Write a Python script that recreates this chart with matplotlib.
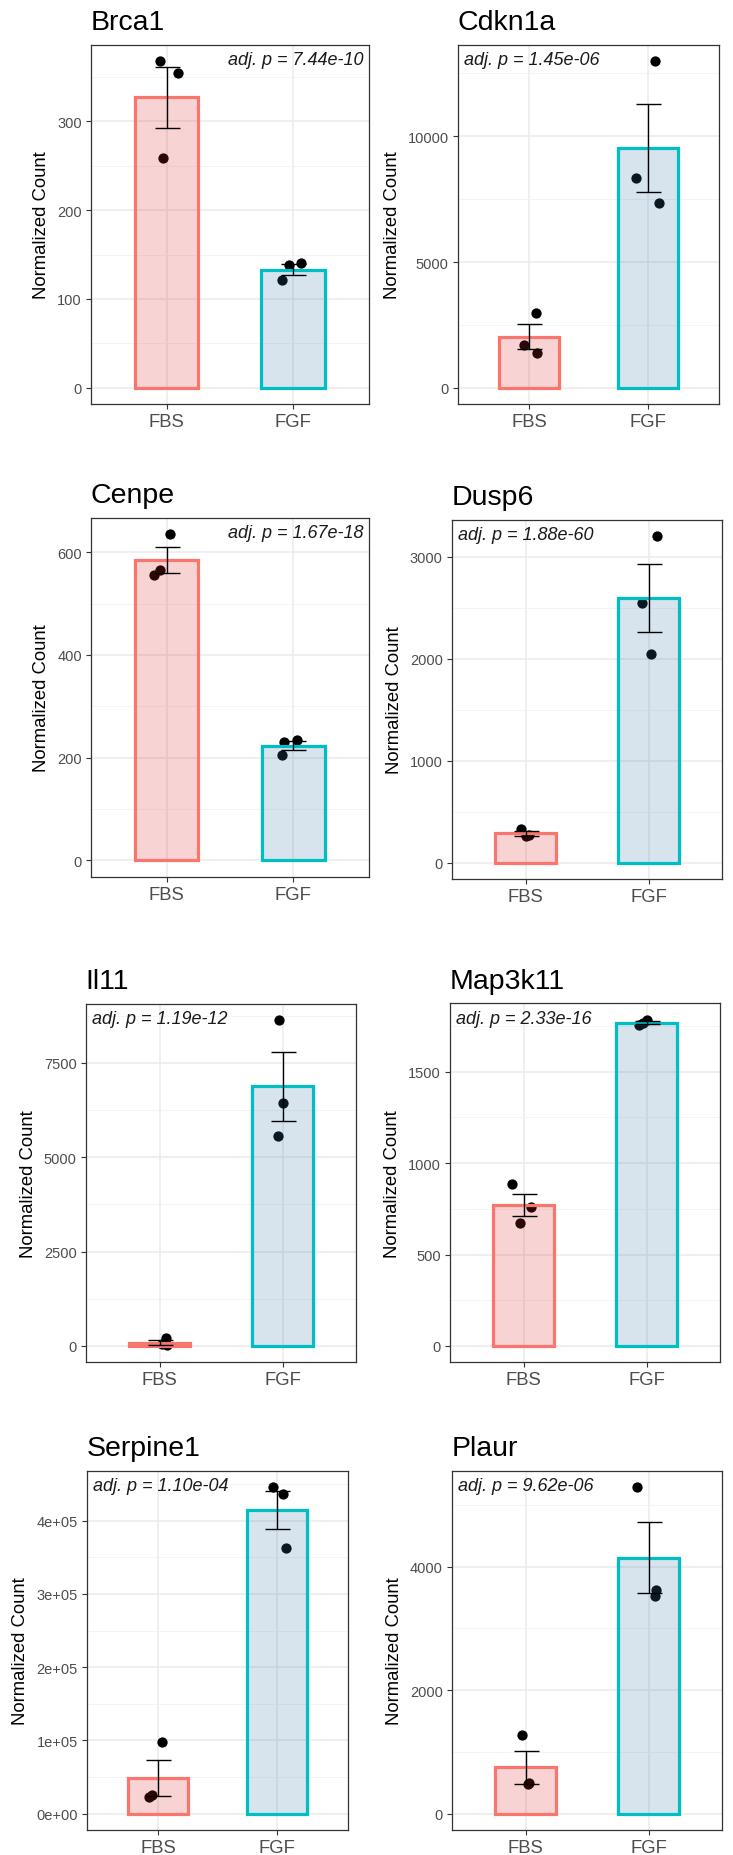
import numpy as np
import matplotlib
matplotlib.use("Agg")
import matplotlib.pyplot as plt
from matplotlib.ticker import FixedLocator

plt.rcParams['font.family'] = ['Liberation Sans', 'DejaVu Sans']

# ---------------- data ----------------
genes = ["Brca1", "Cdkn1a", "Cenpe", "Dusp6", "Il11", "Map3k11", "Serpine1", "Plaur"]
groups = ["FBS", "FGF"]

fbs_counts = [
    [368, 354, 259],
    [2996, 1709, 1406],
    [635, 566, 555],
    [335, 262, 268],
    [200, 30, 45],
    [884, 761, 670],
    [97300, 25000, 22700],
    [1273, 474, 500],
]
fgf_counts = [
    [140, 121, 138],
    [12981, 8320, 7327],
    [234, 231, 205],
    [3203, 2546, 2049],
    [8638, 6435, 5570],
    [1785, 1754, 1767],
    [446000, 436000, 363000],
    [5289, 3623, 3521],
]
# horizontal jitter of the replicate points (category units)
fbs_jitter = [
    [-0.05, 0.088, -0.03],
    [0.06, -0.04, 0.07],
    [0.03, -0.05, -0.10],
    [-0.04, 0.0, 0.03],
    [0.05, 0.06, 0.02],
    [-0.095, 0.06, -0.03],
    [0.03, -0.05, -0.08],
    [-0.03, 0.02, 0.03],
]
fgf_jitter = [
    [0.06, -0.09, -0.03],
    [0.06, -0.10, 0.09],
    [0.03, -0.07, -0.09],
    [0.07, -0.05, 0.02],
    [-0.03, 0.0, -0.04],
    [0.0, -0.065, -0.03],
    [-0.03, 0.05, 0.08],
    [-0.09, 0.06, 0.05],
]
p_labels = ["7.44e-10", "1.45e-06", "1.67e-18", "1.88e-60",
            "1.19e-12", "2.33e-16", "1.10e-04", "9.62e-06"]
y_ticks = [
    [0, 100, 200, 300],
    [0, 5000, 10000],
    [0, 200, 400, 600],
    [0, 1000, 2000, 3000],
    [0, 2500, 5000, 7500],
    [0, 500, 1000, 1500],
    [0, 100000, 200000, 300000, 400000],
    [0, 2000, 4000],
]
y_tick_labels = [
    ["0", "100", "200", "300"],
    ["0", "5000", "10000"],
    ["0", "200", "400", "600"],
    ["0", "1000", "2000", "3000"],
    ["0", "2500", "5000", "7500"],
    ["0", "500", "1000", "1500"],
    ["0e+00", "1e+05", "2e+05", "3e+05", "4e+05"],
    ["0", "2000", "4000"],
]

# ---------------- layout (pixels) ----------------
W, H = 733, 1856
# left, right, top, bottom
boxes = [
    (90.7, 369.0, 45.7, 405.0),
    (457.7, 719.3, 45.7, 405.3),
    (90.7, 369.3, 519.0, 877.7),
    (451.7, 722.3, 520.7, 880.0),
    (85.7, 356.3, 1004.7, 1363.3),
    (449.7, 720.3, 1004.3, 1363.3),
    (86.7, 348.3, 1471.7, 1831.0),
    (451.7, 722.3, 1471.7, 1831.0),
]

edge_cols = ["#F8766D", "#00BFC4"]
fill_cols = [(0.85, 0.14, 0.14, 0.2), (0.22, 0.47, 0.67, 0.2)]
grid_col = "#EBEBEB"
text_gray = "#4D4D4D"
dark = "#333333"

fig = plt.figure(figsize=(W / 100, H / 100), dpi=100)

for i, gene in enumerate(genes):
    l, r, t, b = boxes[i]
    ax = fig.add_axes([l / W, 1 - b / H, (r - l) / W, (b - t) / H])
    ax.set_facecolor("white")

    data = [np.array(fbs_counts[i], float), np.array(fgf_counts[i], float)]
    jit = [fbs_jitter[i], fgf_jitter[i]]
    means = [d.mean() for d in data]
    ses = [d.std(ddof=1) / np.sqrt(len(d)) for d in data]

    # y limits like ggplot (5% expansion)
    lo = min(0, min(d.min() for d in data), min(m - s for m, s in zip(means, ses)))
    hi = max(max(d.max() for d in data), max(m + s for m, s in zip(means, ses)))
    rng = hi - lo
    ax.set_ylim(lo - 0.05 * rng, hi + 0.05 * rng)
    ax.set_xlim(0.4, 2.6)

    # grid
    ticks = y_ticks[i]
    step = ticks[1] - ticks[0]
    minors = [v + step / 2 for v in [ticks[0] - step] + ticks]
    ax.yaxis.set_major_locator(FixedLocator(ticks))
    ax.yaxis.set_minor_locator(FixedLocator(minors))
    ax.set_yticklabels(y_tick_labels[i])
    ax.set_xticks([1, 2])
    ax.set_xticklabels(groups)
    ax.grid(True, which="major", color=grid_col, linewidth=1.1, zorder=0)
    ax.grid(True, which="minor", axis="y", color="#F2F2F2", linewidth=0.6, zorder=0)
    ax.set_axisbelow(True)

    for g in range(2):
        x = g + 1
        xs = x + np.array(jit[g])
        ax.plot(xs, data[g], "o", color="black", markersize=7.4,
                markeredgewidth=0, zorder=2)
        ax.bar(x, means[g], width=0.5, facecolor=fill_cols[g],
               edgecolor=edge_cols[g], linewidth=2.3, zorder=3)
        ax.errorbar(x, means[g], yerr=ses[g], fmt="none", ecolor="black",
                    elinewidth=1.0, capsize=9, capthick=1.0, zorder=4)

    for sp in ax.spines.values():
        sp.set_color(dark)
        sp.set_linewidth(0.9)
    ax.tick_params(axis="both", which="major", length=3.4, width=0.8, color=dark,
                   pad=3)
    ax.tick_params(axis="y", which="minor", length=0)
    ax.tick_params(axis="y", labelsize=10.5, labelcolor=text_gray)
    ax.tick_params(axis="x", labelsize=13.3, labelcolor=text_gray)
    ax.set_ylabel("Normalized Count", fontsize=13.3, color="black", labelpad=5)

    # title
    fig.text(l / W, 1 - (t - 15.5) / H, gene, fontsize=20.5, ha="left",
             va="baseline", color="black")

    # p-value annotation
    txt = "adj. p = " + p_labels[i]
    if means[0] > means[1]:
        fig.text((r - 6) / W, 1 - (t + 19.5) / H, txt, fontsize=13,
                 style="italic", ha="right", va="baseline", color="#1A1A1A")
    else:
        fig.text((l + 6) / W, 1 - (t + 19.5) / H, txt, fontsize=13,
                 style="italic", ha="left", va="baseline", color="#1A1A1A")

fig.savefig("out.png", dpi=100, facecolor="white")
